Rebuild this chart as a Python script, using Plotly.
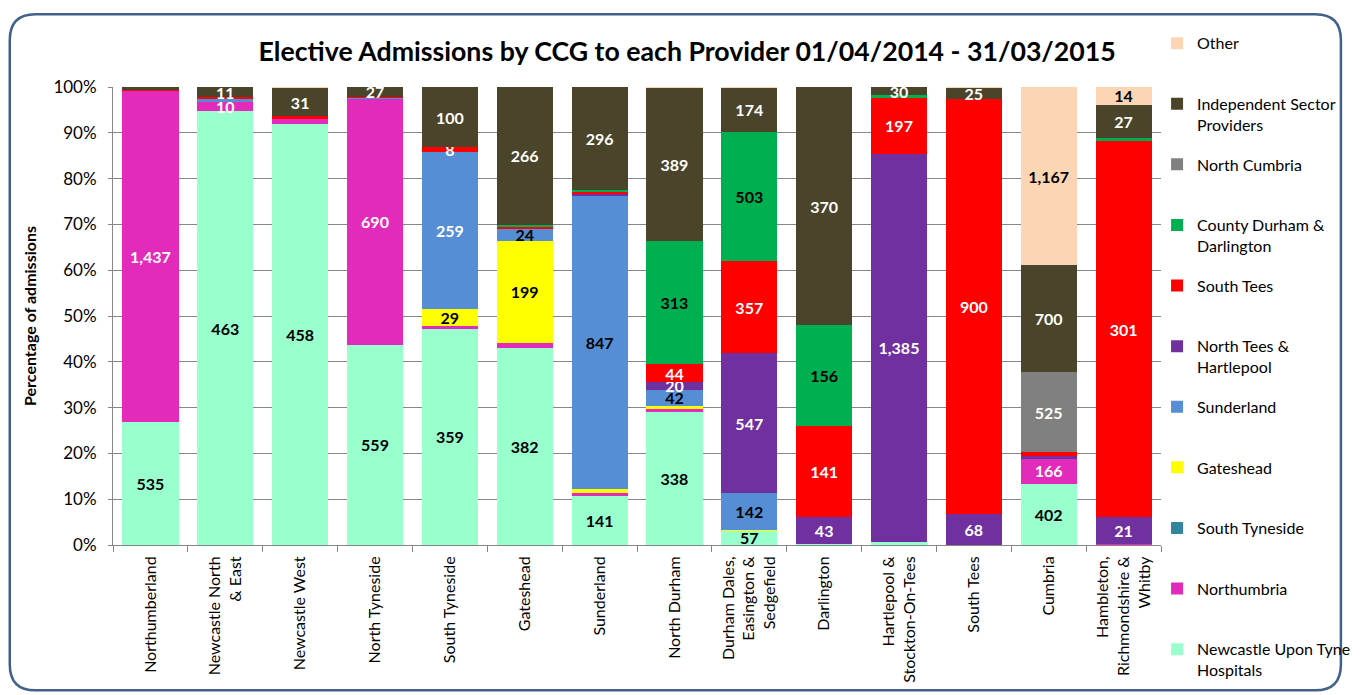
import plotly.graph_objects as go

categories = ["Northumberland", "Newcastle North<br>& East", "Newcastle West", "North Tyneside",
              "South Tyneside", "Gateshead", "Sunderland", "North Durham",
              "Durham Dales,<br>Easington &<br>Sedgefield", "Darlington",
              "Hartlepool &<br>Stockton-On-Tees", "South Tees", "Cumbria",
              "Hambleton,<br>Richmondshire &<br>Whitby"]

newcastle_upon_tyne = [535, 463, 458, 559, 359, 382, 141, 338, 57, 1, 10, 0, 402, 0]
northumbria = [1437, 10, 6, 690, 3, 8, 10, 7, 1, 0, 0, 0, 166, 1]
south_tyneside = [0, 0, 0, 0, 0, 0, 0, 0, 0, 0, 0, 0, 0, 0]
gateshead = [0, 0, 0, 0, 29, 199, 9, 7, 1, 0, 0, 0, 0, 0]
sunderland = [0, 4, 0, 3, 259, 24, 847, 42, 142, 0, 0, 0, 0, 0]
north_tees = [0, 0, 0, 0, 0, 0, 4, 20, 547, 43, 1385, 68, 13, 21]
south_tees = [2, 1, 2, 1, 8, 2, 7, 44, 357, 141, 197, 900, 26, 301]
county_durham = [0, 0, 0, 0, 0, 5, 5, 313, 503, 156, 10, 0, 0, 2]
north_cumbria = [0, 0, 0, 0, 0, 0, 0, 0, 0, 0, 0, 0, 525, 0]
independent = [13, 11, 31, 27, 100, 266, 296, 389, 174, 370, 30, 25, 700, 27]
other = [0, 0, 1, 0, 0, 0, 0, 1, 2, 0, 0, 2, 1167, 14]

series = [
    ("Newcastle Upon Tyne<br>Hospitals", newcastle_upon_tyne, "#99FFCC", "black"),
    ("Northumbria", northumbria, "#E32BBB", "white"),
    ("South Tyneside", south_tyneside, "#31859C", "white"),
    ("Gateshead", gateshead, "#FFFF00", "black"),
    ("Sunderland", sunderland, "#558ED5", "black"),
    ("North Tees &<br>Hartlepool", north_tees, "#7030A0", "white"),
    ("South Tees", south_tees, "#FF0000", "white"),
    ("County Durham &<br>Darlington", county_durham, "#00B050", "black"),
    ("North Cumbria", north_cumbria, "#808080", "white"),
    ("Independent Sector<br>Providers", independent, "#4A452A", "white"),
    ("Other", other, "#FCD5B5", "black"),
]
# per-point label colour exceptions: (series name, category index) -> colour
label_exceptions = {("Sunderland", 4): "white"}

totals = [sum(s[1][i] for s in series) for i in range(len(categories))]

FONT = "Lato"
fig = go.Figure()
n = len(series)
for k, (name, vals, color, tcol) in enumerate(series):
    texts = []
    tcols = []
    for i, v in enumerate(vals):
        show = v >= 8 and v / totals[i] >= 0.01
        texts.append(f"{v:,}" if show else "")
        tcols.append(label_exceptions.get((name, i), tcol))
    legend_name = name if "<br>" in name else name + "<br>\u00a0"
    fig.add_trace(go.Bar(
        x=categories, y=vals, name=legend_name, legendgroup=name, legendrank=n - k,
        marker=dict(color=color, line=dict(width=0)),
        text=texts, textposition="inside", insidetextanchor="middle", textangle=0,
        textfont=dict(family=FONT, size=16, color=tcols, weight="bold"),
    ))

W, H = 1368, 695
L, R, T, B = 113, 1179, 87, 547
def X(px):
    return (px - L) / (R - L)
def Y(py):
    return (B - py) / (B - T)

x0, x1, y0, y1, r = 8, 1362, 14, 693, 26
path = (f"M {X(x0+r)},{Y(y0)} L {X(x1-r)},{Y(y0)} Q {X(x1)},{Y(y0)} {X(x1)},{Y(y0+r)} "
        f"L {X(x1)},{Y(y1-r)} Q {X(x1)},{Y(y1)} {X(x1-r)},{Y(y1)} "
        f"L {X(x0+r)},{Y(y1)} Q {X(x0)},{Y(y1)} {X(x0)},{Y(y1-r)} "
        f"L {X(x0)},{Y(y0+r)} Q {X(x0)},{Y(y0)} {X(x0+r)},{Y(y0)} Z")

fig.update_layout(
    width=W, height=H, autosize=False,
    margin=dict(l=L, r=W - R, t=T, b=H - B),
    barmode="stack", barnorm="percent", bargap=0.25,
    paper_bgcolor="white", plot_bgcolor="white",
    font=dict(family=FONT, color="black", size=16),
    uniformtext=dict(minsize=16, mode="show"),
    title=dict(text="<b>Elective Admissions by CCG to each Provider 01/04/2014 - 31/03/2015</b>",
               x=X(697), xref="paper", xanchor="center", y=1 - 52 / H, yanchor="middle",
               font=dict(family=FONT, size=26.7, color="black")),
    legend=dict(x=X(1175), xanchor="left", y=Y(26), yanchor="top",
                traceorder="grouped", tracegroupgap=16, valign="top",
                font=dict(family=FONT, size=16, color="black"), itemwidth=30,
                bgcolor="rgba(0,0,0,0)", maxheight=700),
    shapes=[dict(type="path", path=path, xref="paper", yref="paper",
                 line=dict(color="#41618A", width=2.5), layer="above")],
    showlegend=True,
)
fig.update_yaxes(range=[0, 100], dtick=10, ticksuffix="%", showgrid=True,
                 gridcolor="#878787", gridwidth=1, showline=True, linecolor="#878787",
                 ticks="outside", ticklen=4, tickcolor="#878787", ticklabelstandoff=8,
                 tickfont=dict(family=FONT, size=17),
                 title=dict(text="<b>Percentage of admissions</b>", font=dict(family=FONT, size=16), standoff=12))
fig.update_xaxes(tickangle=-90, showline=True, linecolor="#878787", ticks="outside",
                 tickson="boundaries", ticklen=6, tickcolor="#878787", ticklabelstandoff=4,
                 tickfont=dict(family=FONT, size=16))

fig.write_html("out.html", post_script="document.body.style.margin='0px';",
               config={"displayModeBar": False})
